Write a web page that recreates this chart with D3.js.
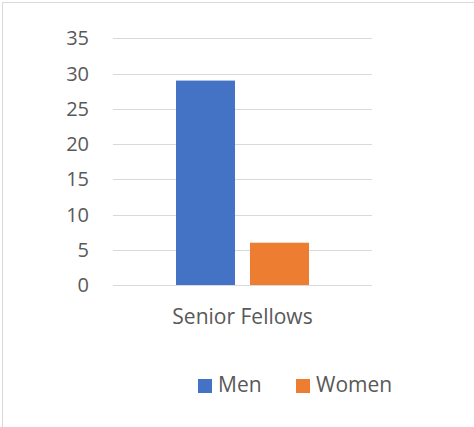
<!DOCTYPE html>
<html>
<head>
<meta charset="utf-8">
<script src="https://cdn.jsdelivr.net/npm/d3@7"></script>
<style>
  body { margin: 0; background: #fff; }
  svg { display: block; font-family: "Open Sans", sans-serif; }
</style>
</head>
<body>
<svg id="chart" width="474" height="427"></svg>
<script>
// data
var categories = ["Senior Fellows"];
var seriesNames = ["Men", "Women"];
var menValues = [29];
var womenValues = [6];
var yTicks = [0, 5, 10, 15, 20, 25, 30, 35];

var colors = ["#4472C4", "#ED7D31"];
var textColor = "#595959";
var gridColor = "#d9d9d9";

var plot = { left: 113, right: 372, top: 38.3, bottom: 285 };

var svg = d3.select("#chart");

// outer frame (only top and left edges are visible)
svg.append("rect")
  .attr("x", 2.5).attr("y", 2.5)
  .attr("width", 600).attr("height", 600)
  .attr("fill", "none")
  .attr("stroke", gridColor);

// scales
var y = d3.scaleLinear().domain([0, 35]).range([plot.bottom, plot.top]);
var x0 = d3.scaleBand()
  .domain(categories)
  .range([plot.left, plot.right])
  .paddingInner(0)
  .paddingOuter(0.4737);
var x1 = d3.scaleBand()
  .domain(seriesNames)
  .range([0, x0.bandwidth()])
  .paddingInner(0.2027)
  .paddingOuter(0);

// gridlines
svg.append("g")
  .selectAll("line").data(yTicks).enter().append("line")
    .attr("x1", plot.left)
    .attr("x2", plot.right)
    .attr("y1", d => Math.round(y(d)) + 0.5)
    .attr("y2", d => Math.round(y(d)) + 0.5)
    .attr("stroke", gridColor)
    .attr("stroke-width", 1);

// y tick labels
svg.append("g")
  .selectAll("text").data(yTicks).enter().append("text")
    .attr("x", 89)
    .attr("y", d => y(d))
    .attr("dy", "0.35em")
    .attr("text-anchor", "end")
    .attr("fill", textColor)
    .style("font-size", "20px")
    .text(d => d);

// bars
var rows = categories.map((c, i) => ({
  cat: c,
  vals: [{ s: "Men", v: menValues[i] }, { s: "Women", v: womenValues[i] }]
}));

var groups = svg.append("g")
  .selectAll("g").data(rows).enter().append("g")
    .attr("transform", d => "translate(" + x0(d.cat) + ",0)");

groups.selectAll("rect").data(d => d.vals).enter().append("rect")
  .attr("x", d => x1(d.s))
  .attr("y", d => y(d.v))
  .attr("width", x1.bandwidth())
  .attr("height", d => y(0) - y(d.v))
  .attr("fill", (d, i) => colors[i]);

// category labels
svg.append("g")
  .selectAll("text").data(categories).enter().append("text")
    .attr("x", d => x0(d) + x0.bandwidth() / 2)
    .attr("y", 324)
    .attr("text-anchor", "middle")
    .attr("fill", textColor)
    .style("font-size", "21px")
    .text(d => d);

// legend
var legendX = [198, 296];
var legend = svg.append("g")
  .selectAll("g").data(seriesNames).enter().append("g")
    .attr("transform", (d, i) => "translate(" + legendX[i] + ",379)");

legend.append("rect")
  .attr("width", 14).attr("height", 14)
  .attr("fill", (d, i) => colors[i]);

legend.append("text")
  .attr("x", 20)
  .attr("y", 13)
  .attr("fill", textColor)
  .style("font-size", "21px")
  .text(d => d);
</script>
</body>
</html>
